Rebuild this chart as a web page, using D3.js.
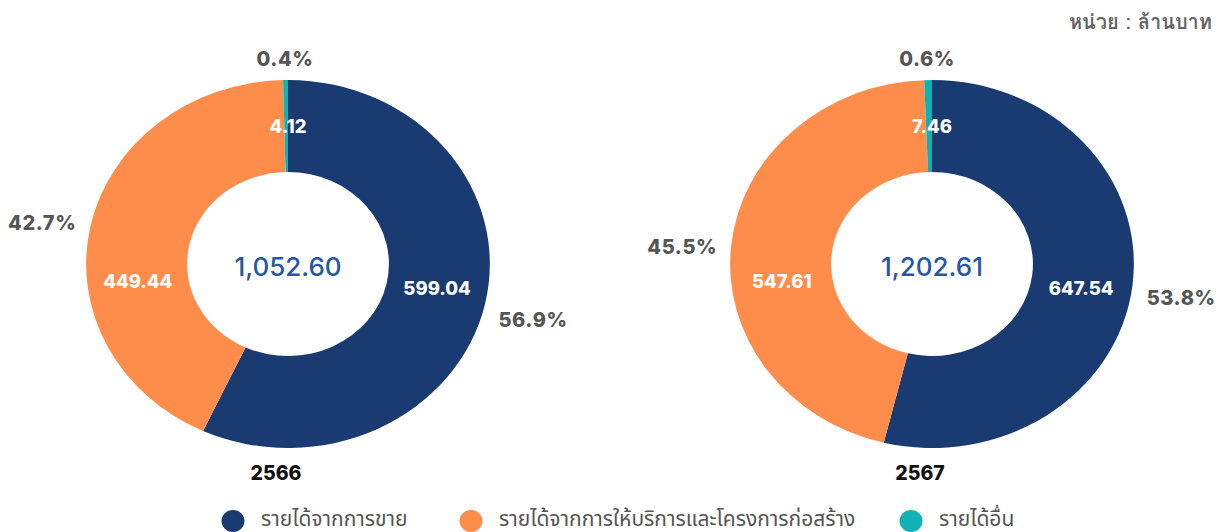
<!DOCTYPE html>
<html><head><meta charset="utf-8">
<script src="https://cdn.jsdelivr.net/npm/d3@7"></script>
<style>
html,body{margin:0;padding:0;background:#fff;}
svg{display:block;}
</style>
</head><body>
<svg id="chart" width="1223" height="532"></svg>
<script>
// ---- data ----
const categories = ["รายได้จากการขาย", "รายได้จากการให้บริการและโครงการก่อสร้าง", "รายได้อื่น"];
const years = ["2566", "2567"];
const values2566 = [599.04, 449.44, 4.12];
const values2567 = [647.54, 547.61, 7.46];
const percents2566 = ["56.9%", "42.7%", "0.4%"];
const percents2567 = ["53.8%", "45.5%", "0.6%"];
const totals = ["1,052.60", "1,202.61"];
const unitLabel = "หน่วย : ล้านบาท";

// ---- style / layout ----
const colors = ["#1a3a72", "#fe8c4b", "#12b2b4"];
const centersX = [288, 932], cy = 264;
const rOuter = 184, rInner = 92, sx = 1.097;
// value label angles (degrees) as placed in the original; null = centred on slice top
const valueLabelAngle = [100, 263, null];

const svg = d3.select("#chart");
const pie = d3.pie().sort(null).value(d => d);
const arc = d3.arc().innerRadius(rInner).outerRadius(rOuter);
const color = d3.scaleOrdinal().domain(categories).range(colors);

const series = [values2566, values2567];
const pcts = [percents2566, percents2567];
const bold = "'Inter','Liberation Sans',sans-serif";

series.forEach((vals, i) => {
  const cx = centersX[i];
  const g = svg.append("g").attr("transform", `translate(${cx},${cy})`);
  const arcs = pie(vals);
  g.append("g").attr("transform", `scale(${sx},1)`)
    .selectAll("path").data(arcs).join("path")
    .attr("d", arc)
    .attr("fill", (d, j) => color(categories[j]));

  // value labels inside ring
  const rMid = (rInner + rOuter) / 2;
  arcs.forEach((d, j) => {
    const a = valueLabelAngle[j] != null ? valueLabelAngle[j] * Math.PI / 180 : 0;
    const x = Math.sin(a) * rMid * sx, y = -Math.cos(a) * rMid;
    g.append("text").attr("x", x).attr("y", y)
      .attr("text-anchor", "middle").attr("dominant-baseline", "central")
      .attr("font-family", bold).attr("font-weight", 800).attr("font-size", 18.5)
      .attr("fill", "#fff").text(d3.format(".2f")(d.data));
  });

  // percent labels outside
  arcs.forEach((d, j) => {
    const a = (d.startAngle + d.endAngle) / 2;
    const dx = Math.sin(a), dy = -Math.cos(a);
    const pad = 12, hw = 36, hh = 9;
    const x = dx * (rOuter + pad) * sx + dx * hw;
    const side = Math.abs(dx) > 0.5;
    const y = side ? dy * 230 + 6 : dy * (rOuter + pad + hh);
    g.append("text").attr("x", x).attr("y", y)
      .attr("text-anchor", "middle").attr("dominant-baseline", "central")
      .attr("font-family", bold).attr("font-weight", 800).attr("font-size", 20)
      .attr("letter-spacing", 0.6)
      .attr("fill", "#555").text(pcts[i][j]);
  });

  // center total
  g.append("text").attr("x", 0).attr("y", 2)
    .attr("text-anchor", "middle").attr("dominant-baseline", "central")
    .attr("font-family", "'Inter','Liberation Sans',sans-serif").attr("font-weight", 500).attr("font-size", 26)
    .attr("fill", "#2457a6").text(totals[i]);

  // year
  g.append("text").attr("x", -12).attr("y", rOuter + 25)
    .attr("text-anchor", "middle").attr("dominant-baseline", "central")
    .attr("font-family", bold).attr("font-weight", 800).attr("font-size", 19.5)
    .attr("fill", "#111").text(years[i]);
});

// unit label
svg.append("text").attr("x", 1212).attr("y", 22)
  .attr("text-anchor", "end").attr("dominant-baseline", "central")
  .attr("font-family", "'Loma','Garuda','Noto Sans','Noto Sans Thai',sans-serif").attr("font-weight", 700).attr("font-size", 20)
  .attr("fill", "#666").text(unitLabel);

// legend
const legendX = [233, 471, 911];
const lg = svg.append("g");
categories.forEach((c, j) => {
  lg.append("ellipse").attr("cx", legendX[j]).attr("cy", 521).attr("rx", 11.5).attr("ry", 11)
    .attr("fill", color(c));
  lg.append("text").attr("x", legendX[j] + 28).attr("y", 518)
    .attr("dominant-baseline", "central")
    .attr("font-family", "'Noto Sans','Noto Sans Thai',sans-serif").attr("font-size", 21)
    .attr("fill", "#555").text(c);
});
</script>
</body></html>
